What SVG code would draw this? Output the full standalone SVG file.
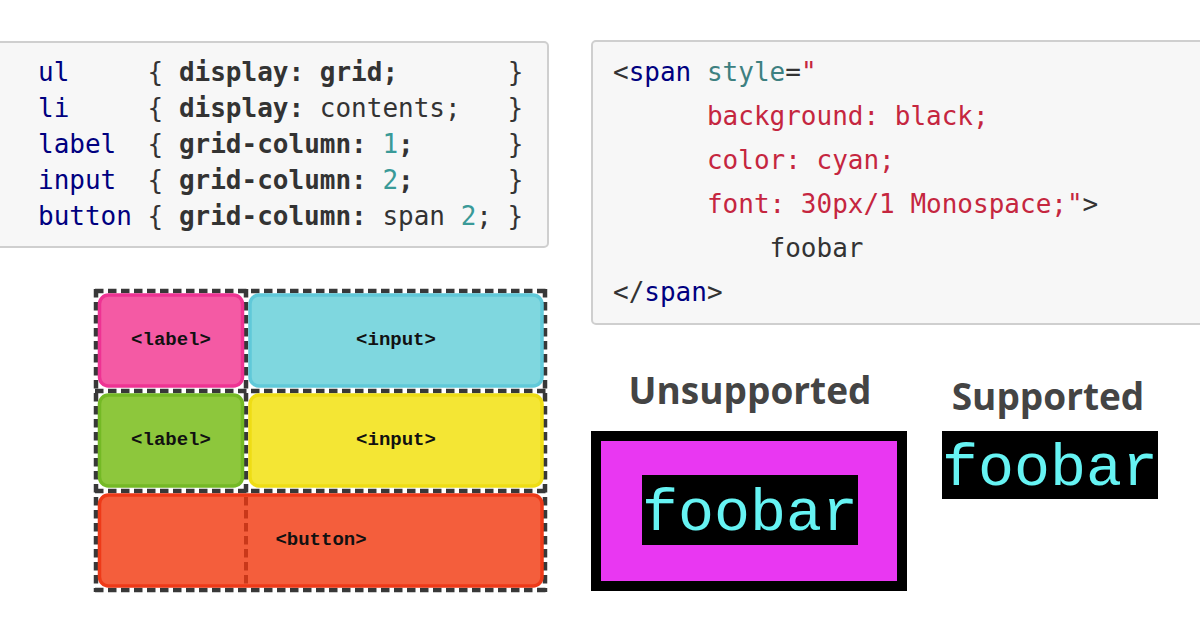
<svg xmlns="http://www.w3.org/2000/svg" width="1200" height="630" viewBox="0 0 1200 630">
<style>
.code{font-family:"DejaVu Sans Mono","Liberation Mono",monospace;font-size:26px;fill:#333;white-space:pre}
.b{font-weight:bold}
.sel{fill:#000080}
.num{fill:#3a9a98}
.attr{fill:#3d8080}
.str{fill:#c5263f}
.box{fill:#f7f7f7;stroke:#cfcfcf;stroke-width:2}
.grid{fill:none;stroke:#383838;stroke-width:4.5;stroke-dasharray:8.5 4.5}
.cell{stroke-width:3.5}
.lbl{font-family:"Liberation Mono","Courier New",monospace;font-weight:bold;font-size:19px;fill:#111;text-anchor:middle}
.head{font-family:"Open Sans",sans-serif;font-weight:bold;font-size:37px;fill:#444;text-anchor:middle}
.foo{font-family:"Liberation Mono","Courier New",monospace;font-size:60px;fill:#66f3f3}
</style>
<rect width="1200" height="630" fill="#fff"/>

<g id="css-code">
<rect class="box" x="-6" y="42" width="554" height="205" rx="4"/>
<text class="code" x="38" y="81" xml:space="preserve"><tspan class="sel">ul</tspan>     { <tspan class="b">display:</tspan> <tspan class="b">grid;</tspan>       }</text>
<text class="code" x="38" y="117" xml:space="preserve"><tspan class="sel">li</tspan>     { <tspan class="b">display:</tspan> contents;   }</text>
<text class="code" x="38" y="153" xml:space="preserve"><tspan class="sel">label</tspan>  { <tspan class="b">grid-column:</tspan> <tspan class="num">1</tspan><tspan class="b">;</tspan>      }</text>
<text class="code" x="38" y="189" xml:space="preserve"><tspan class="sel">input</tspan>  { <tspan class="b">grid-column:</tspan> <tspan class="num">2</tspan><tspan class="b">;</tspan>      }</text>
<text class="code" x="38" y="225" xml:space="preserve"><tspan class="sel">button</tspan> { <tspan class="b">grid-column:</tspan> span <tspan class="num">2</tspan>; }</text>
</g>

<g id="html-code">
<rect class="box" x="592" y="41" width="620" height="283" rx="4"/>
<text class="code" x="613" y="81" xml:space="preserve">&lt;<tspan class="sel">span</tspan> <tspan class="attr">style</tspan>=<tspan class="str">"</tspan></text>
<text class="code str" x="613" y="125" xml:space="preserve">      background: black;</text>
<text class="code str" x="613" y="169" xml:space="preserve">      color: cyan;</text>
<text class="code" x="613" y="213" xml:space="preserve"><tspan class="str">      font: 30px/1 Monospace;"</tspan>&gt;</text>
<text class="code" x="613" y="257" xml:space="preserve">          foobar</text>
<text class="code" x="613" y="301" xml:space="preserve">&lt;/<tspan class="sel">span</tspan>&gt;</text>
</g>

<g id="grid-diagram">
<g id="grid-lines">
<line class="grid" x1="95" y1="291" x2="547" y2="291"/>
<line class="grid" x1="95" y1="391" x2="547" y2="391"/>
<line class="grid" x1="95" y1="491" x2="547" y2="491"/>
<line class="grid" x1="95" y1="590" x2="547" y2="590"/>
<line class="grid" x1="96" y1="289" x2="96" y2="592"/>
<line class="grid" x1="545" y1="289" x2="545" y2="592"/>
<line class="grid" x1="246" y1="289" x2="246" y2="493"/>
</g>
<g id="label1">
<rect class="cell" x="99.5" y="295" width="143" height="91" rx="9" fill="#f45aa4" stroke="#ee3393"/>
<text class="lbl" x="171" y="345">&lt;label&gt;</text>
</g>
<g id="input1">
<rect class="cell" x="250" y="295" width="292" height="91" rx="9" fill="#7fd7df" stroke="#60c9d9"/>
<text class="lbl" x="396" y="345">&lt;input&gt;</text>
</g>
<g id="label2">
<rect class="cell" x="99.5" y="395" width="143" height="91" rx="9" fill="#8dc73c" stroke="#74b925"/>
<text class="lbl" x="171" y="445">&lt;label&gt;</text>
</g>
<g id="input2">
<rect class="cell" x="250" y="395" width="292" height="91" rx="9" fill="#f4e634" stroke="#eedd14"/>
<text class="lbl" x="396" y="445">&lt;input&gt;</text>
</g>
<g id="button">
<rect class="cell" x="99.5" y="495" width="442.5" height="91" rx="9" fill="#f45e3c" stroke="#ee3a18"/>
<line x1="246" y1="497" x2="246" y2="585" stroke="#c9381a" stroke-width="4" stroke-dasharray="8.5 4.5"/>
<text class="lbl" x="321" y="545">&lt;button&gt;</text>
</g>
</g>

<g id="unsupported">
<text class="head" x="750" y="404">Unsupported</text>
<rect x="591" y="431" width="316" height="160" fill="#000"/>
<rect x="601" y="441" width="296" height="140" fill="#e937f2"/>
<rect x="642" y="475" width="216" height="70" fill="#000"/>
<text class="foo" x="642" y="530">foobar</text>
</g>

<g id="supported">
<text class="head" x="1048" y="410">Supported</text>
<rect x="942" y="431" width="216" height="68" fill="#000"/>
<text class="foo" x="942" y="485">foobar</text>
</g>
</svg>
